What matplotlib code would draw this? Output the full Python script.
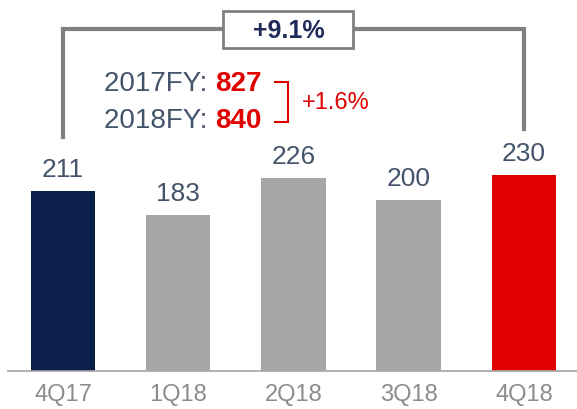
import matplotlib.pyplot as plt
from matplotlib.patches import Rectangle

plt.rcParams['font.family'] = ['Liberation Sans', 'DejaVu Sans']

quarters = ["4Q17", "1Q18", "2Q18", "3Q18", "4Q18"]
values = [211, 183, 226, 200, 230]
bar_colors = ["#0B1F4B", "#A6A6A6", "#A6A6A6", "#A6A6A6", "#E00000"]
fy_labels = ["2017FY: ", "2018FY: "]
fy_values = ["827", "840"]
yoy_q = "+9.1%"
yoy_fy = "+1.6%"

TEXT = "#44546A"
GRAY_LINE = "#808080"
RED = "#E00000"

fig = plt.figure(figsize=(5.77, 4.10), dpi=100)
ax = fig.add_axes([8 / 577, 38 / 410, 1 - 8 / 577, 372 / 410])
x = range(len(quarters))
ax.bar(x, values, width=0.56, color=bar_colors, zorder=2)
ax.set_xlim(-0.477, 4.46)
ax.set_ylim(0, 436)

for xi, v in zip(x, values):
    ax.text(xi, v + 12, str(v), ha="center", va="bottom", fontsize=19, color=TEXT)

for s in ["top", "right", "left"]:
    ax.spines[s].set_visible(False)
ax.spines["bottom"].set_color("#A6A6A6")
ax.spines["bottom"].set_linewidth(1.2)
ax.set_yticks([])
ax.set_xticks(list(x))
ax.set_xticklabels(quarters, fontsize=17, color="#8C8C8C")
ax.tick_params(axis="x", length=0, pad=9)

# grey bracket from 4Q17 to 4Q18
ax.plot([0, 0, 4, 4], [274, 401, 401, 284], color=GRAY_LINE, lw=3,
        solid_joinstyle="miter", clip_on=False)
ax.add_patch(Rectangle((1.388, 379), 1.128, 43.5, fc="white", ec=GRAY_LINE,
                       lw=2, zorder=3, clip_on=False))
ax.text(1.96, 400, yoy_q, ha="center", va="center", fontsize=18,
        fontweight="bold", color="#1F2A5A", zorder=4)

# full year lines
ys = [338, 294]
for lab, val, yy in zip(fy_labels, fy_values, ys):
    t = ax.text(0.36, yy, lab, ha="left", va="center", fontsize=20, color=TEXT)
    ax.annotate(val, xy=(1, 0.5), xycoords=t, ha="left", va="center",
                fontsize=20, fontweight="bold", color=RED)

# red bracket
ax.plot([1.84, 1.952, 1.952, 1.84], [339, 339, 292, 292], color=RED, lw=1.5,
        solid_joinstyle="miter")
ax.text(2.073, 315, yoy_fy, ha="left", va="center", fontsize=17, color=RED)

fig.savefig("out.png", dpi=100)
